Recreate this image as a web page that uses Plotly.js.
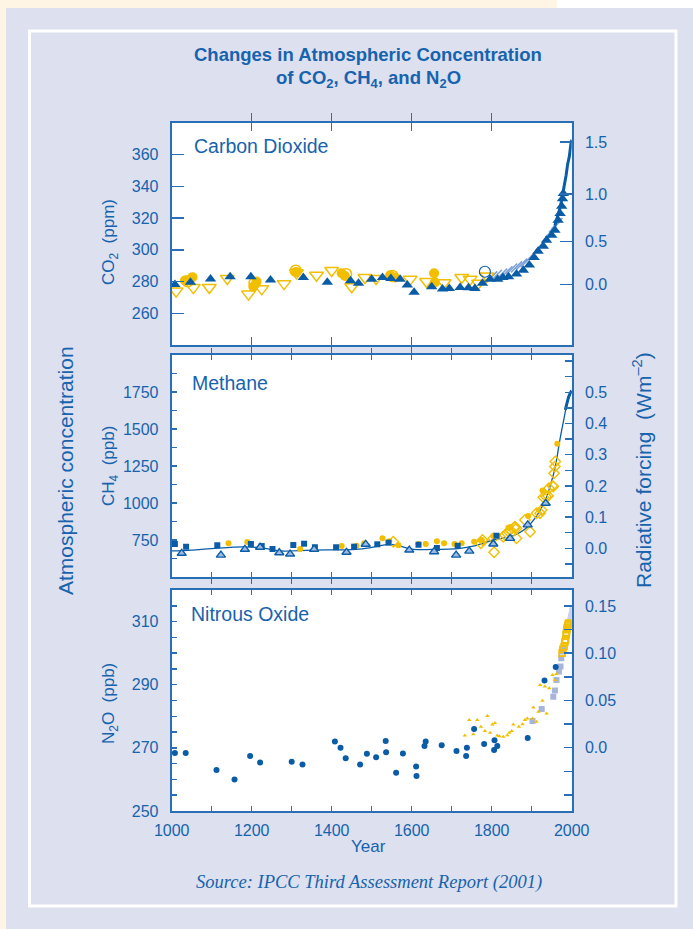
<!DOCTYPE html>
<html><head><meta charset="utf-8">
<script src="https://cdn.plot.ly/plotly-3.0.1.min.js"></script>
<style>html,body{margin:0;padding:0;background:#FEF5E4;} #chart{width:693px;height:929px;}</style>
</head><body><div id="chart"></div>
<script>
// ---------------- CO2 (ppm) ----------------
const co2TriYear = [1008,1047,1097,1146,1198,1247,1329,1389,1447,1467,1500,1527,1548,1571,1589,1606,1650,1677,1694,1721,1742,1758,1777,1796,1815,1828,1842,1862,1879,1894,1906,1916,1929,1937,1950,1958,1966,1971,1975,1977,1979];
const co2TriVal  = [278.2,279.5,281.6,283.0,283.0,281.0,282.6,279.5,280.5,278.9,281.4,282.6,282.0,281.4,277.8,273.2,276.7,275.3,275.7,276.3,276.1,275.7,278.9,281.5,281.5,282.5,283.0,284.7,287.2,290.4,295.2,299.2,302.3,306.1,309.2,312.4,318.7,322.9,327.5,332.3,335.5];
const co2DownYear = [1011,1054,1094,1139,1192,1225,1281,1312,1362,1400,1450,1483,1511,1596,1637,1681,1725,1746,1767,1788];
const co2DownVal  = [274.0,276.2,276.3,282.0,272.1,275.4,278.7,285.5,284.0,287.0,276.7,282.6,282.0,281.4,280.0,279.3,282.6,281.4,279.0,283.5];
const co2CircYear = [1033,1052,1204,1212,1311,1425,1433,1546,1558,1656,1658];
const co2CircVal  = [280.7,282.8,276.7,280.0,286.1,285.2,283.5,284.0,282.6,285.2,279.5];
const co2OpenCircYear = [1040,1207,1310,1436,1552];
const co2OpenCircVal  = [280.2,279.0,286.8,284.6,283.5];
const co2OpenBlueYear = [1783];
const co2OpenBlueVal  = [286.2];
const co2SipleYear = [1800,1812,1825,1838,1850,1862,1875,1886,1896,1906,1915,1923,1932,1940,1948,1957,1963];
const co2SipleVal  = [283.0,284.0,284.7,286.2,287.9,289.3,291.0,292.5,295.2,297.7,300.3,303.0,305.0,308.2,311.3,314.5,316.6];
const co2MloYear = [1958,1962,1966,1970,1974,1978,1982,1986,1990,1994,1998,2000];
const co2MloVal  = [315.3,318.5,321.4,325.7,330.2,335.4,341.1,347.0,354.2,358.8,366.7,369.4];
const co2TickVals = [260,280,300,320,340,360];
const co2ForcingTicks = [0, 0.5, 1.0, 1.5];
const co2ForcingText  = ['0.0','0.5','1.0','1.5'];

// ---------------- CH4 (ppb) ----------------
const ch4LineYear = [1000,1050,1100,1180,1230,1270,1350,1460,1500,1546,1604,1650,1721,1760,1804,1854,1890,1929,1950,1960,1970,1980,1990,2000];
const ch4LineVal  = [676,682,692,704,695,676,682,687,700,721,687,686,694,712,750,780,840,990,1150,1260,1420,1560,1690,1755];
const ch4AtmYear = [1984,1988,1992,1996,2000];
const ch4AtmVal  = [1630,1680,1715,1740,1760];
const ch4SqYear = [1008,1036,1114,1198,1225,1252,1304,1331,1358,1411,1456,1514,1542,1617,1663,1715,1812];
const ch4SqVal  = [723,705,714,723,709,689,716,725,701,701,705,721,732,718,696,711,779];
const ch4TriYear = [1025,1123,1183,1221,1269,1296,1356,1437,1485,1594,1656,1711,1744,1804,1846,1890,1935];
const ch4TriVal  = [660,648,687,701,664,655,687,667,721,682,671,648,675,723,761,852,998];
const ch4CircYear = [1142,1189,1321,1425,1462,1481,1527,1544,1567,1617,1635,1663,1681,1707,1725,1756,1775,1804,1842,1846,1891,1927,1964];
const ch4CircVal  = [728,736,689,709,711,728,761,741,714,723,723,741,728,723,728,739,750,777,833,836,912,1084,1400];
const ch4DiaYear = [1554,1773,1777,1804,1806,1829,1833,1838,1846,1857,1858,1862,1862,1883,1896,1912,1921,1925,1929,1936,1941,1943,1952,1954,1956,1958,1959];
const ch4DiaVal  = [738,728,750,761,667,772,784,795,818,833,840,761,829,885,806,931,931,953,1039,1043,1048,1100,1116,1111,1201,1246,1280];
const ch4TickVals = [750,1000,1250,1500,1750];
const ch4ForcingTicks = [0,0.1,0.2,0.3,0.4,0.5];
const ch4ForcingText  = ['0.0','0.1','0.2','0.3','0.4','0.5'];

// ---------------- N2O (ppb) ----------------
const n2oDotYear = [1008,1035,1112,1157,1196,1221,1300,1327,1408,1422,1435,1471,1488,1511,1535,1536,1561,1578,1611,1612,1632,1635,1675,1712,1736,1738,1756,1781,1807,1806,1814,1890,1932,1960];
const n2oDotVal  = [268.4,268.4,263.0,260.0,267.4,265.4,265.6,264.7,272.0,270.0,266.7,264.7,268.1,267.0,272.2,268.6,262.1,268.2,264.1,261.1,270.6,272.0,270.8,269.0,267.4,270.0,276.0,271.2,272.4,269.3,270.6,273.1,291.3,295.6];
const n2oTriYear = [1733,1744,1754,1764,1773,1783,1789,1796,1802,1808,1814,1819,1829,1839,1844,1850,1854,1868,1877,1883,1889,1902,1904,1912,1917,1921,1927,1933,1937,1944,1952,1958,1962];
const n2oTriVal  = [273.9,278.8,274.3,278.8,276.7,275.3,280.1,274.8,277.4,277.9,273.9,273.7,273.5,274.0,274.8,275.3,277.4,276.7,277.5,278.8,279.3,279.3,282.8,278.3,281.4,289.9,284.9,289.4,280.9,288.9,293.1,291.5,293.4];
const n2oSqYear = [1902,1925,1954,1958,1962,1968,1972,1974,1976,1979];
const n2oSqVal  = [278.5,282.3,286.2,288.2,291.5,294.2,295.8,298.4,300.5,301.5];
const n2oOpenSqYear = [1976,1978,1981,1983,1985,1986,1987,1988,1989,1990,1991,1992];
const n2oOpenSqVal  = [300.0,301.2,302.1,303.5,304.2,305.8,306.5,307.4,308.0,308.6,309.0,309.5];
const n2oAtmYear = [1993,1994,1995,1996,1997,1998,1999,2000];
const n2oAtmVal  = [310.0,310.6,311.2,311.8,312.3,312.8,313.6,314.5];
const n2oTickVals = [250,270,290,310];
const n2oForcingTicks = [0,0.05,0.10,0.15];
const n2oForcingText  = ['0.0','0.05','0.10','0.15'];

const yearTicks = [1000,1200,1400,1600,1800,2000];

// ---------------- styling ----------------
const W = 693, H = 929;
const TXT = '#1763AD', FRAME = '#2A6FB6', MB = '#0B5CA6', YEL = '#F2BE00';
const FONT = 'Liberation Sans, Arial, Helvetica, sans-serif';
const px = v => v / W, py = v => 1 - v / H;
const xDom = [px(171.7), px(571.7)];

function sc(x, y, xa, ya, marker, extra) {
  const t = {type:'scatter', mode:'markers', x:x, y:y, xaxis:xa, yaxis:ya,
    hoverinfo:'skip', showlegend:false, cliponaxis:true};
  if (marker) t.marker = marker;
  return Object.assign(t, extra || {});
}
// invisible helper so that the right-hand (radiative forcing) axes get a subplot
function axisHolder(xa, ya) {
  return {type:'scatter', mode:'markers', x:[1500], y:[0], xaxis:xa, yaxis:ya,
    marker:{size:1, opacity:0}, hoverinfo:'skip', showlegend:false};
}

const traces = [
  axisHolder('x','y2'), axisHolder('x2','y4'), axisHolder('x3','y6'),
  // CO2
  sc(co2SipleYear, co2SipleVal, 'x','y', {symbol:'line-ne', size:11, line:{color:'#7FA3D6', width:1.6}}),
  sc(co2DownYear, co2DownVal, 'x','y', {symbol:'triangle-down-open', size:12, color:YEL, line:{color:YEL, width:1.5}}),
  sc(co2OpenCircYear, co2OpenCircVal, 'x','y', {symbol:'circle-open', size:11, color:YEL, line:{color:YEL, width:1.5}}),
  sc(co2CircYear, co2CircVal, 'x','y', {symbol:'circle', size:10, color:YEL}),
  sc(co2OpenBlueYear, co2OpenBlueVal, 'x','y', {symbol:'circle-open', size:11, color:MB, line:{color:MB, width:1.2}}),
  sc(co2TriYear, co2TriVal, 'x','y', {symbol:'triangle-up', size:10, color:MB}),
  sc(co2MloYear, co2MloVal, 'x','y', null, {mode:'lines', line:{color:MB, width:3}}),
  // CH4
  sc(ch4LineYear, ch4LineVal, 'x2','y3', null, {mode:'lines', line:{color:MB, width:1.3, shape:'spline', smoothing:1}}),
  sc(ch4AtmYear, ch4AtmVal, 'x2','y3', null, {mode:'lines', line:{color:MB, width:3}}),
  sc(ch4DiaYear, ch4DiaVal, 'x2','y3', {symbol:'diamond-open', size:8, color:YEL, line:{color:YEL, width:1.4}}),
  sc(ch4CircYear, ch4CircVal, 'x2','y3', {symbol:'circle', size:6, color:YEL}),
  sc(ch4SqYear, ch4SqVal, 'x2','y3', {symbol:'square', size:6, color:MB}),
  sc(ch4TriYear, ch4TriVal, 'x2','y3', {symbol:'triangle-up', size:8, color:'#9DBBE3', line:{color:MB, width:1.4}}),
  // N2O
  sc(n2oSqYear, n2oSqVal, 'x3','y5', {symbol:'square', size:6, color:'#A7B5DA'}),
  sc(n2oAtmYear, n2oAtmVal, 'x3','y5', {symbol:'square', size:4, color:'#C9D2EA'}),
  sc(n2oOpenSqYear, n2oOpenSqVal, 'x3','y5', {symbol:'square-open', size:6, color:YEL, line:{color:YEL, width:1.6}}),
  sc(n2oTriYear, n2oTriVal, 'x3','y5', {symbol:'triangle-up', size:4, color:YEL}),
  sc(n2oDotYear, n2oDotVal, 'x3','y5', {symbol:'circle', size:6, color:MB})
];

const tickFont = {family:FONT, size:16, color:TXT};
function xa(anchor, extra) {
  return Object.assign({domain:xDom, anchor:anchor, range:[1000,2000], showgrid:false, zeroline:false,
    showline:true, linecolor:FRAME, linewidth:2, ticks:'inside', tickcolor:FRAME, tickwidth:1.5,
    mirror:'allticks', showticklabels:false, fixedrange:true}, extra);
}
function ya(dom, range, extra) {
  return Object.assign({domain:dom, range:range, showgrid:false, zeroline:false, showline:true,
    linecolor:FRAME, linewidth:2, ticks:'inside', tickcolor:FRAME, tickwidth:1.5, mirror:true,
    tickmode:'array', tickfont:tickFont, ticklabelstandoff:8, fixedrange:true}, extra);
}
function yr(over, anchor, range, tv, tt, extra) {
  return Object.assign({overlaying:over, anchor:anchor, side:'right', range:range, showgrid:false,
    zeroline:false, showline:true, linecolor:FRAME, linewidth:2, ticks:'inside', tickcolor:FRAME,
    tickwidth:1.5, tickmode:'array', tickvals:tv, ticktext:tt, tickfont:tickFont, showticklabels:true,
    ticklabelstandoff:8, fixedrange:true}, extra);
}

const dTop = [py(345), py(123)], dMid = [py(577), py(355)], dBot = [py(811), py(590)];

const layout = {
  width:W, height:H, autosize:false, margin:{l:0,r:0,t:0,b:0,pad:0},
  paper_bgcolor:'#DCE0EF', plot_bgcolor:'#FFFFFF', showlegend:false,
  font:{family:FONT, color:TXT},
  xaxis:  xa('y',  {tickmode:'array', tickvals:[1200,1400,1600,1800], ticklen:8}),
  xaxis2: xa('y3', {tickmode:'linear', tick0:1000, dtick:100, ticklen:5}),
  xaxis3: xa('y5', {tickmode:'array', tickvals:yearTicks, ticktext:yearTicks.map(String), showticklabels:true,
            tickfont:tickFont, ticklabelstandoff:4, ticklen:5,
            minor:{tickmode:'linear', tick0:1000, dtick:100, ticks:'inside', ticklen:5, tickcolor:FRAME, tickwidth:1.5}}),
  yaxis:  ya(dTop, [240,380], {anchor:'x', tickvals:co2TickVals, ticklen:12}),
  yaxis2: yr('y', 'x', [240,380], co2ForcingTicks.map(f => 278*Math.exp(f/5.35)), co2ForcingText, {ticklen:12}),
  yaxis3: ya(dMid, [500,2000], {anchor:'x2', tickvals:ch4TickVals, ticklen:5,
            minor:{tickmode:'linear', tick0:500, dtick:125, ticks:'inside', ticklen:5, tickcolor:FRAME, tickwidth:1.5}}),
  yaxis4: yr('y3', 'x2', [-0.092,0.6196], ch4ForcingTicks, ch4ForcingText, {ticklen:7,
            minor:{tickmode:'linear', tick0:0, dtick:0.05, ticks:'inside', ticklen:7, tickcolor:FRAME, tickwidth:1.5}}),
  yaxis5: ya(dBot, [250,320], {anchor:'x3', tickvals:n2oTickVals, ticklen:5,
            minor:{tickmode:'linear', tick0:250, dtick:5, ticks:'inside', ticklen:5, tickcolor:FRAME, tickwidth:1.5}}),
  yaxis6: yr('y5', 'x3', [-0.067,0.1669], n2oForcingTicks, n2oForcingText, {ticklen:8,
            minor:{tickmode:'linear', tick0:0, dtick:0.025, ticks:'inside', ticklen:8, tickcolor:FRAME, tickwidth:1.5}}),
  shapes:[
    {type:'rect', xref:'paper', yref:'paper', x0:0, x1:px(6), y0:0, y1:1, fillcolor:'#FEF5E4', line:{width:0}, layer:'below'},
    {type:'rect', xref:'paper', yref:'paper', x0:0, x1:px(557), y0:py(8), y1:1, fillcolor:'#FEF5E4', line:{width:0}, layer:'below'},
    {type:'rect', xref:'paper', yref:'paper', x0:px(557), x1:1, y0:py(8), y1:1, fillcolor:'#FFFFFF', line:{width:0}, layer:'below'},
    {type:'rect', xref:'paper', yref:'paper', x0:px(29.5), x1:px(676), y0:py(906), y1:py(31), fillcolor:'rgba(0,0,0,0)', line:{color:'#FFFFFF', width:3}, layer:'below'}
  ],
  annotations:[
    {text:'<b>Changes in Atmospheric Concentration</b>', x:px(368), y:py(55), xref:'paper', yref:'paper', showarrow:false, xanchor:'center', yanchor:'middle', font:{family:FONT, size:18.5, color:TXT}},
    {text:'<b>of CO<sub>2</sub>, CH<sub>4</sub>, and N<sub>2</sub>O</b>', x:px(368), y:py(79), xref:'paper', yref:'paper', showarrow:false, xanchor:'center', yanchor:'middle', font:{family:FONT, size:18.5, color:TXT}},
    {text:'Carbon Dioxide', x:px(192), y:py(146), xref:'paper', yref:'paper', showarrow:false, xanchor:'left', yanchor:'middle', font:{family:FONT, size:19.5, color:TXT}},
    {text:'Methane', x:px(190), y:py(383), xref:'paper', yref:'paper', showarrow:false, xanchor:'left', yanchor:'middle', font:{family:FONT, size:19.5, color:TXT}},
    {text:'Nitrous Oxide', x:px(188.5), y:py(614), xref:'paper', yref:'paper', showarrow:false, xanchor:'left', yanchor:'middle', font:{family:FONT, size:19.5, color:TXT}},
    {text:'CO<sub>2</sub>  (ppm)', x:px(110), y:py(242), xref:'paper', yref:'paper', showarrow:false, textangle:-90, xanchor:'center', yanchor:'middle', font:{family:FONT, size:17, color:TXT}},
    {text:'CH<sub>4</sub>  (ppb)', x:px(110), y:py(466), xref:'paper', yref:'paper', showarrow:false, textangle:-90, xanchor:'center', yanchor:'middle', font:{family:FONT, size:17, color:TXT}},
    {text:'N<sub>2</sub>O  (ppb)', x:px(110), y:py(704), xref:'paper', yref:'paper', showarrow:false, textangle:-90, xanchor:'center', yanchor:'middle', font:{family:FONT, size:17, color:TXT}},
    {text:'Atmospheric concentration', x:px(65), y:py(471), xref:'paper', yref:'paper', showarrow:false, textangle:-90, xanchor:'center', yanchor:'middle', font:{family:FONT, size:21, color:TXT}},
    {text:'Radiative forcing  (Wm<sup>–2</sup>)', x:px(642), y:py(470), xref:'paper', yref:'paper', showarrow:false, textangle:-90, xanchor:'center', yanchor:'middle', font:{family:FONT, size:21, color:TXT}},
    {text:'Year', x:px(368), y:py(846), xref:'paper', yref:'paper', showarrow:false, xanchor:'center', yanchor:'middle', font:{family:FONT, size:17, color:TXT}},
    {text:'<i>Source: IPCC Third Assessment Report (2001)</i>', x:px(369), y:py(882), xref:'paper', yref:'paper', showarrow:false, xanchor:'center', yanchor:'middle', font:{family:'Liberation Serif, Times New Roman, serif', size:18.5, color:TXT}}
  ]
};

Plotly.newPlot('chart', traces, layout, {staticPlot:true, displayModeBar:false});
</script></body></html>
